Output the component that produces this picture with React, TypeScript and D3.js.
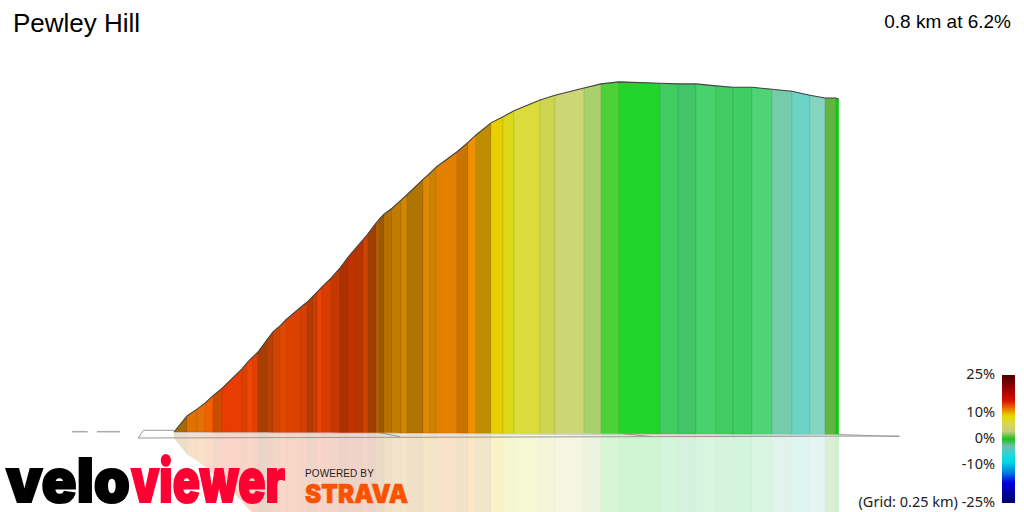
import * as d3 from 'd3'

// profile: metres along the climb and metres gained
const distances = [0, 15.7, 27.7, 37.3, 47, 57.8, 81.9, 87.9, 95.2, 101.2, 112, 119.3, 127.7, 134.9, 153, 160.2, 167.5, 172.3, 178.3, 189.2, 200, 209.6, 219.3, 227.7, 233.7, 243.4, 248.2, 253, 262.7, 273.5, 280.7, 300, 308.4, 315.7, 341, 354.2, 363.9, 381.9, 396.4, 409.6, 441, 459, 494, 514.5, 536.1, 585.5, 607.2, 628.9, 653, 673.5, 696.4, 720.5, 744.6, 766.3, 784.3, 797.6, 801]
const elevations = [0.3, 2.7, 3.7, 4.6, 5.7, 6.8, 9.7, 10.6, 11.5, 12.2, 14, 15.2, 16.1, 17, 18.9, 19.6, 20.5, 21.1, 21.9, 23.2, 24.7, 26.3, 27.7, 28.9, 29.8, 31.4, 32.1, 32.7, 33.6, 34.8, 35.6, 37.9, 38.8, 39.7, 42, 43.4, 44.5, 46.3, 47.2, 48.1, 49.7, 50.4, 51.5, 52.1, 52.4, 52.2, 52.1, 52.1, 51.8, 51.6, 51.6, 51.3, 51, 50.4, 50, 50, 49.8]

// one fill per section between two distances
const sectionFills = ['#a86a00', '#e07000', '#e56f00', '#f26000', '#c94c00', '#e83c00', '#d94000', '#f24300', '#e04000', '#aa3d00', '#b84000', '#cf4500', '#e04a00', '#db4200', '#d54000', '#b83a00', '#c84000', '#ee4200', '#d93c00', '#c43800', '#ac3000', '#c03200', '#b83400', '#cf4200', '#a04000', '#b85a00', '#9c5c00', '#b87000', '#c07c00', '#cf8600', '#b07400', '#dd8800', '#cc8400', '#e38000', '#c97400', '#ef9000', '#c08c00', '#e6d000', '#dbd81a', '#d9dc3a', '#cdd450', '#ccd674', '#a8d06c', '#4cd238', '#20d62c', '#40cc60', '#42c468', '#48d26e', '#42cc62', '#40cc60', '#4ed474', '#74ccaa', '#6cd4c4', '#84d4c0', '#64b444', '#10d010']

const legendTicks = [25, 10, 0, -10, -25]
const legendStops = [25, 20, 15, 12, 9, 6, 3, 0, -3, -6, -9, -13, -17, -21, -25]
const legendColors = ['#4a0000', '#960000', '#d81000', '#e87000', '#e8d800', '#d8d850', '#c8cc80', '#20c020', '#70c0b0', '#20d8d8', '#00d8e8', '#0080e0', '#0000e0', '#0000a0', '#000060']

// ground plate and grid marks, in metres along the climb
const plateStart = -37
const plateCorner = -43
const plateTip = 874
const gridMarks: [number, number][] = [[248, 272], [541, 576], [801, 874]]
const farDashes: [number, number][] = [[-123, -104], [-93, -65]]

const x = d3.scaleLinear().domain([0, 800]).range([174, 838])
const y = d3.scaleLinear().domain([0, 50]).range([434, 98])
const mirrorY = d3.scaleLinear().domain([0, 50]).range([436, 772])
const groundY = d3.scaleLinear().domain([0, 801]).range([432, 434.6])
const legendY = d3.scaleLinear().domain([25, -25]).range([375, 503])

const indices = d3.range(distances.length)

const sectionArea = d3.area<number>()
  .x((i) => x(distances[i]))
  .y0((i) => groundY(distances[i]))
  .y1((i) => y(elevations[i]))

const mirrorArea = d3.area<number>()
  .x((i) => x(distances[i]))
  .y0((i) => groundY(distances[i]))
  .y1((i) => mirrorY(elevations[i]))

const ridge = d3.line<number>()
  .x((i) => x(distances[i]))
  .y((i) => y(elevations[i]))

const ui = "'Noto Sans', sans-serif"
const arial = "'Liberation Sans', Arial, sans-serif"
const logo = "Inter, 'Liberation Sans', sans-serif"

export default function App() {
  return (
    <svg width={1024} height={512} viewBox="0 0 1024 512" style={{ position: 'absolute', left: 0, top: 0 }}>
      <defs>
        <linearGradient id="legendRamp" x1="0" x2="0" y1="0" y2="1">
          {legendStops.map((s, i) => (
            <stop key={s} offset={(25 - s) / 50} stopColor={legendColors[i]} />
          ))}
        </linearGradient>
      </defs>
      <rect width={1024} height={512} fill="#fff" />

      {/* reflection */}
      <g opacity={0.21}>
        {sectionFills.map((fill, i) => (
          <path key={i} d={mirrorArea([i, i + 1]) as string} fill={fill} stroke="rgba(0,0,0,0.12)" strokeWidth={0.6} />
        ))}
      </g>

      {/* far dashes */}
      {farDashes.map(([a, b]) => (
        <line key={a} x1={x(a)} x2={x(b)} y1={431.7} y2={431.7} stroke="#aaa" strokeWidth={1.5} />
      ))}

      {/* ground plate */}
      <path
        d={`M${x(plateStart)},430.3L${x(0)},430.3M${x(plateStart)},430.3L${x(plateCorner)},438L${x(plateTip)},436`}
        fill="none"
        stroke="#999"
        strokeWidth={1}
      />
      <path d={`M${x(0)},432.4L${x(plateTip)},436`} fill="none" stroke="#ccc" strokeWidth={1} />
      {gridMarks.map(([a, b]) => (
        <line key={a} x1={x(a)} x2={x(b)} y1={groundY(a)} y2={436.6} stroke="#999" strokeWidth={1} />
      ))}

      {/* climb */}
      {sectionFills.map((fill, i) => (
        <path key={i} d={sectionArea([i, i + 1]) as string} fill={fill} stroke="rgba(0,0,0,0.1)" strokeWidth={0.7} />
      ))}
      <path d={ridge(indices) as string} fill="none" stroke="#444" strokeWidth={1.1} />

      <text x={13} y={32} fontFamily={arial} fontSize={26} fill="#000">Pewley Hill</text>
      <text x={1011} y={28} textAnchor="end" fontFamily={arial} fontSize={19} fill="#000">0.8 km at 6.2%</text>

      {/* gradient legend */}
      <rect x={1002} y={legendY(25)} width={13} height={legendY(-25) - legendY(25)} fill="url(#legendRamp)" />
      {legendTicks.map((t) => (
        <text key={t} x={995} y={legendY(t) + 4} textAnchor="end" fontFamily={ui} fontSize={14.5} fill="#222">
          {t === -25 ? `(Grid: 0.25 km) ${t}%` : `${t}%`}
        </text>
      ))}

      {/* logos */}
      <text x={6} y={502} fontFamily={logo} fontWeight={900} fontSize={60} textLength={124} lengthAdjust="spacingAndGlyphs" fill="#000" stroke="#000" strokeWidth={2}>velo</text>
      <text x={131} y={502} fontFamily={logo} fontWeight={900} fontSize={60} textLength={154} lengthAdjust="spacingAndGlyphs" fill="#ff0033" stroke="#ff0033" strokeWidth={2}>viewer</text>
      <text x={305} y={477} fontFamily={arial} fontSize={10} letterSpacing={1.2} textLength={70} fill="#222">POWERED BY</text>
      <text x={305} y={503} fontFamily={logo} fontWeight={900} fontSize={26} textLength={103} lengthAdjust="spacingAndGlyphs" fill="#fc5200" stroke="#fc5200" strokeWidth={0.6}>STRAVA</text>
    </svg>
  )
}
